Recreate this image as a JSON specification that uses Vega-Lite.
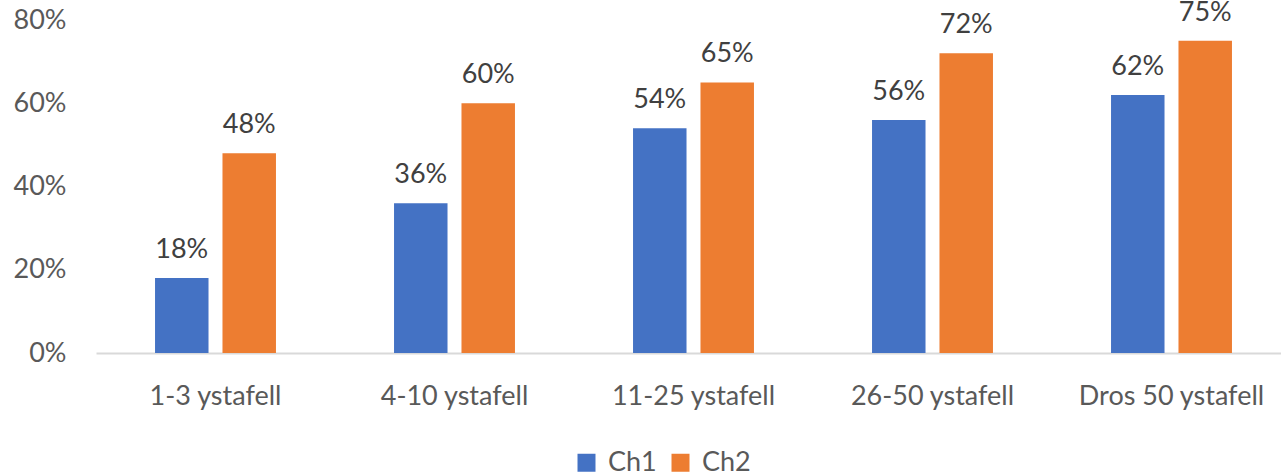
{
  "$schema": "https://vega.github.io/schema/vega-lite/v6.json",
  "autosize": "none",
  "width": 1195,
  "height": 333,
  "padding": {"left": 96, "top": 20, "right": 0, "bottom": 123},
  "background": "white",
  "config": {
    "view": {"stroke": null},
    "font": "Lato"
  },
  "data": {
    "values": [
      {"category": "1-3 ystafell", "series": "Ch1", "value": 0.18},
      {"category": "1-3 ystafell", "series": "Ch2", "value": 0.48},
      {"category": "4-10 ystafell", "series": "Ch1", "value": 0.36},
      {"category": "4-10 ystafell", "series": "Ch2", "value": 0.60},
      {"category": "11-25 ystafell", "series": "Ch1", "value": 0.54},
      {"category": "11-25 ystafell", "series": "Ch2", "value": 0.65},
      {"category": "26-50 ystafell", "series": "Ch1", "value": 0.56},
      {"category": "26-50 ystafell", "series": "Ch2", "value": 0.72},
      {"category": "Dros 50 ystafell", "series": "Ch1", "value": 0.62},
      {"category": "Dros 50 ystafell", "series": "Ch2", "value": 0.75}
    ]
  },
  "encoding": {
    "x": {
      "field": "category",
      "type": "nominal",
      "sort": null,
      "scale": {"paddingInner": 0.494, "paddingOuter": 0.247},
      "axis": {
        "title": null,
        "labelAngle": 0,
        "ticks": false,
        "domainColor": "#D9D9D9",
        "domainWidth": 2,
        "labelFontSize": 27,
        "labelColor": "#595959",
        "labelBaseline": "alphabetic",
        "labelPadding": 51,
        "labelLimit": 400,
        "grid": false
      }
    },
    "xOffset": {
      "field": "series",
      "type": "nominal",
      "scale": {"paddingInner": 0.207, "paddingOuter": 0}
    },
    "y": {
      "field": "value",
      "type": "quantitative",
      "scale": {"domain": [0, 0.8], "nice": false},
      "axis": {
        "title": null,
        "format": ".0%",
        "values": [0, 0.2, 0.4, 0.6, 0.8],
        "domain": false,
        "ticks": false,
        "grid": false,
        "labelFontSize": 27,
        "labelColor": "#595959",
        "labelPadding": 30,
        "labelBaseline": "middle"
      }
    }
  },
  "layer": [
    {
      "mark": {"type": "bar"},
      "encoding": {
        "color": {
          "field": "series",
          "type": "nominal",
          "scale": {"domain": ["Ch1", "Ch2"], "range": ["#4472C4", "#ED7D31"]},
          "legend": {
            "title": null,
            "orient": "none",
            "direction": "horizontal",
            "legendX": 477,
            "legendY": 429,
            "padding": 0,
            "symbolType": "square",
            "symbolSize": 324,
            "symbolStrokeWidth": 0,
            "labelFontSize": 27,
            "labelColor": "#595959",
            "labelOffset": 8,
            "columnPadding": 10
          }
        }
      }
    },
    {
      "mark": {
        "type": "text",
        "baseline": "alphabetic",
        "dy": -20,
        "fontSize": 27,
        "color": "#404040"
      },
      "encoding": {
        "text": {"field": "value", "type": "quantitative", "format": ".0%"}
      }
    }
  ]
}
